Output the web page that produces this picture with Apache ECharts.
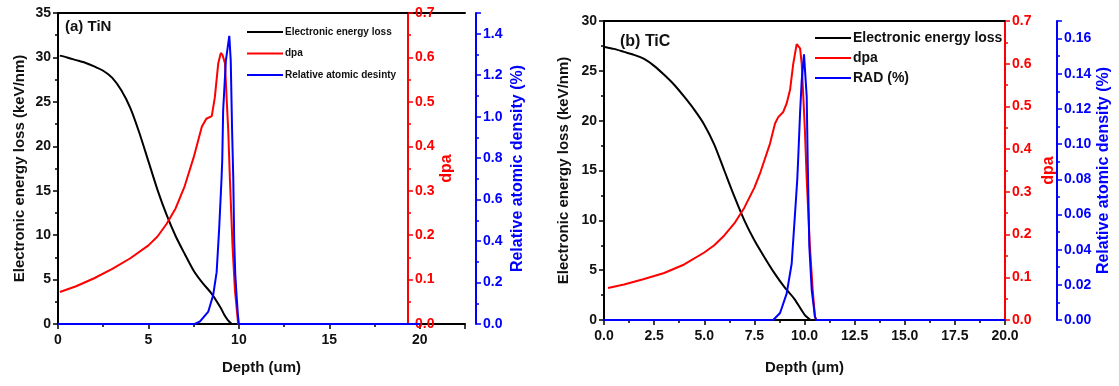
<!DOCTYPE html>
<html>
<head>
<meta charset="utf-8">
<script src="https://cdn.jsdelivr.net/npm/echarts@6/dist/echarts.min.js"></script>
<style>
html,body{margin:0;padding:0;background:#fff;}
#chart{width:1119px;height:386px;}
</style>
</head>
<body>
<div id="chart"></div>
<script>
// ---------- Panel (a) TiN ----------
const depthLossA = [0.1,0.5,1,1.5,2,2.5,3,3.5,4,4.5,5,5.5,6,6.5,7,7.5,8,8.5,9,9.2,9.4,9.6];
const lossA = [30.2,30.0,29.7,29.4,29.0,28.5,27.7,26.3,24.3,21.5,18.3,15.1,12.3,9.9,7.9,6.0,4.6,3.4,1.8,1.0,0.4,0];
const depthDpaA = [0.1,1,2,3,4,5,5.5,6,6.5,7,7.5,7.95,8.2,8.5,8.67,8.86,9.0,9.1,9.23,9.32,9.41,9.5,9.65,9.78,9.96,20];
const dpaA = [0.072,0.085,0.103,0.124,0.148,0.177,0.197,0.225,0.26,0.31,0.375,0.444,0.462,0.468,0.51,0.587,0.61,0.605,0.587,0.51,0.437,0.33,0.174,0.077,0,0];
const depthRadA = [0,7.57,7.85,8.31,8.58,8.77,8.91,9.04,9.08,9.13,9.28,9.47,9.55,9.62,9.69,9.74,9.8,9.87,9.95,10.0,20];
const radA = [0,0,0.013,0.06,0.14,0.25,0.46,0.70,0.79,1.03,1.27,1.39,1.27,0.95,0.70,0.40,0.24,0.14,0.04,0,0];
const legendA = ['Electronic energy loss','dpa','Relative atomic desinty'];

// ---------- Panel (b) TiC ----------
const depthLossB = [0.05,0.5,1,1.5,2,2.5,3,3.5,4,4.5,5,5.5,6,6.5,7,7.5,8,8.5,9,9.5,10,10.3];
const lossB = [27.4,27.2,26.9,26.6,26.2,25.5,24.6,23.6,22.4,21.1,19.6,17.6,15.0,12.4,10.0,8.0,6.3,4.7,3.3,2.1,0.55,0];
const depthDpaB = [0.2,1,2,3,4,5,5.5,6,6.5,7,7.5,7.78,8.28,8.53,8.69,8.94,9.11,9.28,9.44,9.61,9.78,9.86,9.94,10.02,10.11,10.27,10.41,10.52,10.6,20];
const dpaB = [0.075,0.083,0.096,0.11,0.13,0.158,0.175,0.198,0.226,0.263,0.31,0.343,0.413,0.46,0.475,0.487,0.507,0.539,0.60,0.646,0.636,0.60,0.523,0.445,0.33,0.171,0.07,0.008,0,0];
const depthRadB = [0,8.44,8.78,9.11,9.36,9.53,9.64,9.69,9.78,9.86,9.975,10.11,10.16,10.24,10.36,10.52,10.58,20];
const radB = [0,0,0.004,0.015,0.032,0.061,0.080,0.093,0.118,0.136,0.151,0.127,0.09,0.042,0.017,0.002,0,0];
const legendB = ['Electronic energy loss','dpa','RAD (%)'];

const zip = (xs, ys) => xs.map((x, i) => [x, ys[i]]);
const FONT = "'Liberation Sans', Arial, sans-serif";
const BLACK = '#000000', RED = '#ff0000', BLUE = '#0000ff';

function xBottom(grid, max, interval, name, fmt, gap) {
  return {
    type: 'value', gridIndex: grid, position: 'bottom', min: 0, max: max, interval: interval,
    axisLine: {show: true, onZero: false, lineStyle: {color: BLACK, width: 2}},
    axisTick: {show: true, inside: false, length: 5, lineStyle: {width: 1.5, color: BLACK}},
    minorTick: {show: true, splitNumber: 2, length: 3, lineStyle: {width: 1.5, color: BLACK}},
    splitLine: {show: false}, minorSplitLine: {show: false},
    axisLabel: {color: '#111', fontFamily: FONT, fontWeight: 'bold', fontSize: 14, margin: 9, formatter: fmt,
                showMaxLabel: true, hideOverlap: false},
    name: name, nameLocation: 'middle', nameGap: gap,
    nameTextStyle: {color: '#111', fontFamily: FONT, fontWeight: 'bold', fontSize: 15}
  };
}
function xTop(grid, max) {
  return {
    type: 'value', gridIndex: grid, position: 'top', min: 0, max: max,
    axisLine: {show: true, onZero: false, lineStyle: {color: BLACK, width: 2}},
    axisTick: {show: false}, axisLabel: {show: false}, splitLine: {show: false}
  };
}
function yAx(grid, pos, offset, max, interval, color, name, nameGap, fmt, nameSize) {
  return {
    type: 'value', gridIndex: grid, position: pos, offset: offset, min: 0, max: max, interval: interval,
    axisLine: {show: true, onZero: false, lineStyle: {color: color, width: 2}},
    axisTick: {show: true, inside: false, length: 5, lineStyle: {width: 1.5, color: color}},
    minorTick: {show: true, splitNumber: 2, length: 3, lineStyle: {width: 1.5, color: color}},
    splitLine: {show: false}, minorSplitLine: {show: false},
    axisLabel: {color: color === BLACK ? '#111' : color, fontFamily: FONT, fontWeight: 'bold', fontSize: 14, margin: 7,
                formatter: fmt, hideOverlap: false},
    name: name, nameLocation: 'middle', nameGap: nameGap, nameRotate: 90,
    nameTextStyle: {color: color === BLACK ? '#111' : color, fontFamily: FONT, fontWeight: 'bold', fontSize: nameSize}
  };
}
function lineSeries(name, data, xi, yi, color, smooth) {
  return {
    type: 'line', name: name, data: data, xAxisIndex: xi, yAxisIndex: yi,
    symbol: 'none', smooth: smooth, lineStyle: {color: color, width: 2}, itemStyle: {color: color},
    emphasis: {disabled: true}, animation: false
  };
}

const fmtMult5 = v => (Math.abs(v % 5) < 1e-9 ? String(v) : '');
const fmtB = v => (Math.abs((v / 2.5) - Math.round(v / 2.5)) < 1e-9 ? v.toFixed(1) : '');
const fmtInt = v => String(Math.round(v));
const fmt1 = v => v.toFixed(1);
const fmtRadA = v => (Math.abs(v * 5 - Math.round(v * 5)) < 1e-6 ? v.toFixed(1) : '');
const fmtRadB = v => (Math.abs(v * 50 - Math.round(v * 50)) < 1e-6 ? v.toFixed(2) : '');

const chart = echarts.init(document.getElementById('chart'), null, {renderer: 'canvas'});
chart.setOption({
  animation: false,
  backgroundColor: '#ffffff',
  textStyle: {fontFamily: FONT},
  title: [
    {text: '(a) TiN', left: 65, top: 19, padding: 0,
     textStyle: {fontFamily: FONT, fontWeight: 'bold', fontSize: 15, color: '#111'}},
    {text: '(b) TiC', left: 620, top: 34, padding: 0,
     textStyle: {fontFamily: FONT, fontWeight: 'bold', fontSize: 16, color: '#111'}}
  ],
  legend: [
    {data: legendA, orient: 'vertical', left: 247, top: 26, padding: 0, icon: 'rect', itemWidth: 36, itemHeight: 2, itemGap: 9.5,
     selectedMode: false, textStyle: {fontFamily: FONT, fontWeight: 'bold', fontSize: 10, lineHeight: 12, color: '#111', padding: [0,0,0,-3]}},
    {data: legendB, orient: 'vertical', left: 815, top: 30, padding: 0, icon: 'rect', itemWidth: 36, itemHeight: 2, itemGap: 4,
     selectedMode: false, textStyle: {fontFamily: FONT, fontWeight: 'bold', fontSize: 14, lineHeight: 16, color: '#111', padding: [0,0,0,-3]}}
  ],
  grid: [
    {left: 58, top: 13, width: 407, height: 311, containLabel: false},
    {left: 604, top: 21, width: 401, height: 299, containLabel: false}
  ],
  xAxis: [
    xBottom(0, 22.5, 5, 'Depth (um)', fmtMult5, 36),
    xTop(0, 22.5),
    xBottom(1, 20, 2.5, 'Depth (\u03bcm)', fmtB, 40),
    xTop(1, 20)
  ],
  yAxis: [
    yAx(0, 'left', 0, 35, 5, BLACK, 'Electronic energy loss (keV/nm)', 31, fmtInt, 15),
    yAx(0, 'right', -57, 0.7, 0.1, RED, 'dpa', 31, fmt1, 16),
    yAx(0, 'right', 11, 1.5, 0.2, BLUE, 'Relative atomic density (%)', 34, fmtRadA, 16),
    yAx(1, 'left', 0, 30, 5, BLACK, 'Electronic energy loss (keV/nm)', 33, fmtInt, 15),
    yAx(1, 'right', 0, 0.7, 0.1, RED, 'dpa', 36, fmt1, 16),
    yAx(1, 'right', 52, 0.17, 0.02, BLUE, 'Relative atomic density (%)', 38, fmtRadB, 16)
  ],
  series: [
    lineSeries(legendA[0], zip(depthLossA, lossA), 0, 0, BLACK, 0.25),
    lineSeries(legendA[1], zip(depthDpaA, dpaA), 0, 1, RED, false),
    lineSeries(legendA[2], zip(depthRadA, radA), 0, 2, BLUE, false),
    lineSeries(legendB[0], zip(depthLossB, lossB), 2, 3, BLACK, 0.25),
    lineSeries(legendB[1], zip(depthDpaB, dpaB), 2, 4, RED, false),
    lineSeries(legendB[2], zip(depthRadB, radB), 2, 5, BLUE, false)
  ]
});
</script>
</body>
</html>
